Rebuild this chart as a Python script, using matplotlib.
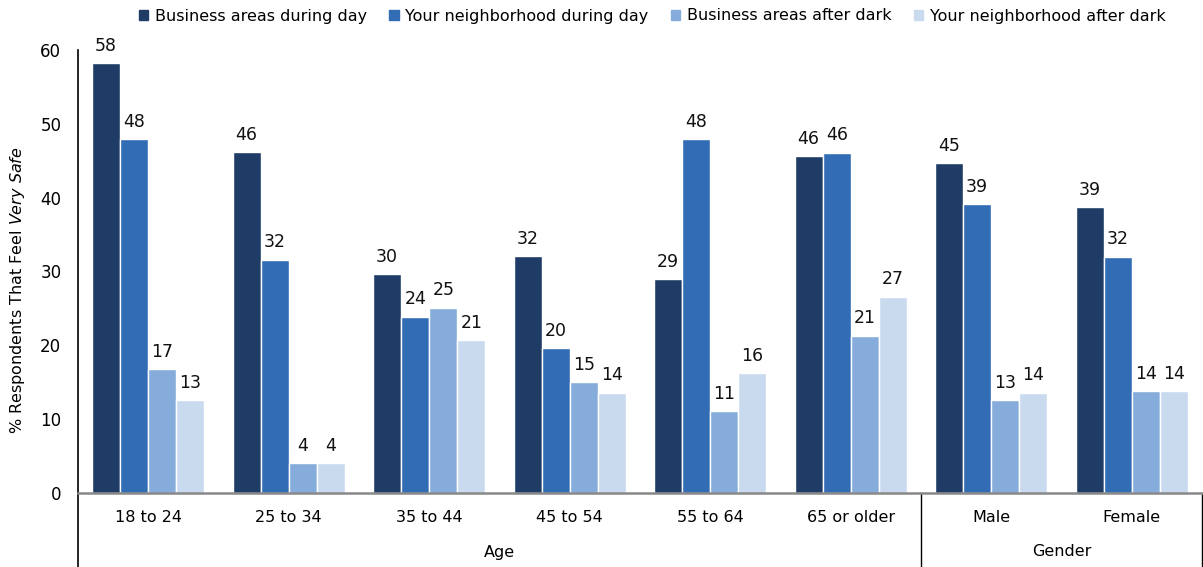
import numpy as np
import matplotlib.pyplot as plt
from matplotlib.patches import Patch

plt.rcParams['font.family'] = 'DejaVu Sans'
plt.rcParams['mathtext.fontset'] = 'custom'
plt.rcParams['mathtext.rm'] = 'DejaVu Sans'
plt.rcParams['mathtext.it'] = 'DejaVu Sans:italic'

# survey data: % of respondents that feel very safe
categories = ['18 to 24', '25 to 34', '35 to 44', '45 to 54', '55 to 64',
              '65 or older', 'Male', 'Female']
groups = [('Age', 0, 5), ('Gender', 6, 7)]
series = ['Business areas during day', 'Your neighborhood during day',
          'Business areas after dark', 'Your neighborhood after dark']
business_day = [58.2, 46.2, 29.6, 32.1, 29.0, 45.6, 44.7, 38.7]
neighborhood_day = [47.9, 31.6, 23.9, 19.6, 47.9, 46.1, 39.1, 32.0]
business_dark = [16.8, 4.0, 25.1, 15.0, 11.1, 21.3, 12.6, 13.8]
neighborhood_dark = [12.6, 4.0, 20.7, 13.6, 16.2, 26.6, 13.6, 13.8]
colors = ['#1f3c66', '#316cb4', '#86acdc', '#c9daef']

values = [business_day, neighborhood_day, business_dark, neighborhood_dark]

fig = plt.figure(figsize=(12.03, 5.67), dpi=100)
ax = fig.add_axes([78 / 1203, 74 / 567, 1124 / 1203, 443 / 567])

x = np.arange(len(categories))
w = 0.2
for j, (vals, c, name) in enumerate(zip(values, colors, series)):
    bars = ax.bar(x + (j - 1.5) * w, vals, w, color=c, edgecolor='white',
                  linewidth=1, label=name)
    for b, v in zip(bars, vals):
        ax.annotate(f'{v:.0f}', (b.get_x() + b.get_width() / 2, v),
                    xytext=(0, 6), textcoords='offset points',
                    ha='center', va='bottom', fontsize=12.5, color='#111111')

ax.set_xlim(-0.5, len(categories) - 0.5)
ax.set_ylim(0, 60)
ax.set_yticks(range(0, 61, 10))
ax.tick_params(axis='y', length=0, labelsize=12, pad=12)
ax.set_xticks(x)
ax.set_xticklabels(categories)
ax.tick_params(axis='x', length=0, labelsize=11.5, pad=12)

for s in ['top', 'right', 'left']:
    ax.spines[s].set_visible(False)
ax.spines['bottom'].set_color('#888888')
ax.spines['bottom'].set_linewidth(1.8)

# left axis line runs down past the category labels
ybot = -74 / 443
ax.plot([0, 0], [1, ybot], transform=ax.transAxes, color='black',
        lw=1.2, clip_on=False)

# group separators and group labels
for name, i0, i1 in groups:
    xr = i1 + 0.5
    ax.plot([xr, xr], [0, ybot], transform=ax.get_xaxis_transform(),
            color='black', lw=1, clip_on=False)
    ax.text((i0 + i1) / 2, -59 / 443, name, transform=ax.get_xaxis_transform(),
            ha='center', va='center', fontsize=11.5)

fig.text(18 / 1203, 1 - 290 / 567,
         r'% Respondents That Feel $\mathit{Very\ Safe}$',
         rotation=90, ha='center', va='center', fontsize=11.5)

handles = [Patch(color=c) for c in colors]
fig.legend(handles, series, loc='center', bbox_to_anchor=(652 / 1203, 1 - 16 / 567),
           ncol=4, frameon=False, fontsize=11.5, handlelength=0.6,
           handleheight=0.6, handletextpad=0.4, columnspacing=1.4)

fig.savefig('out.png', dpi=100)
